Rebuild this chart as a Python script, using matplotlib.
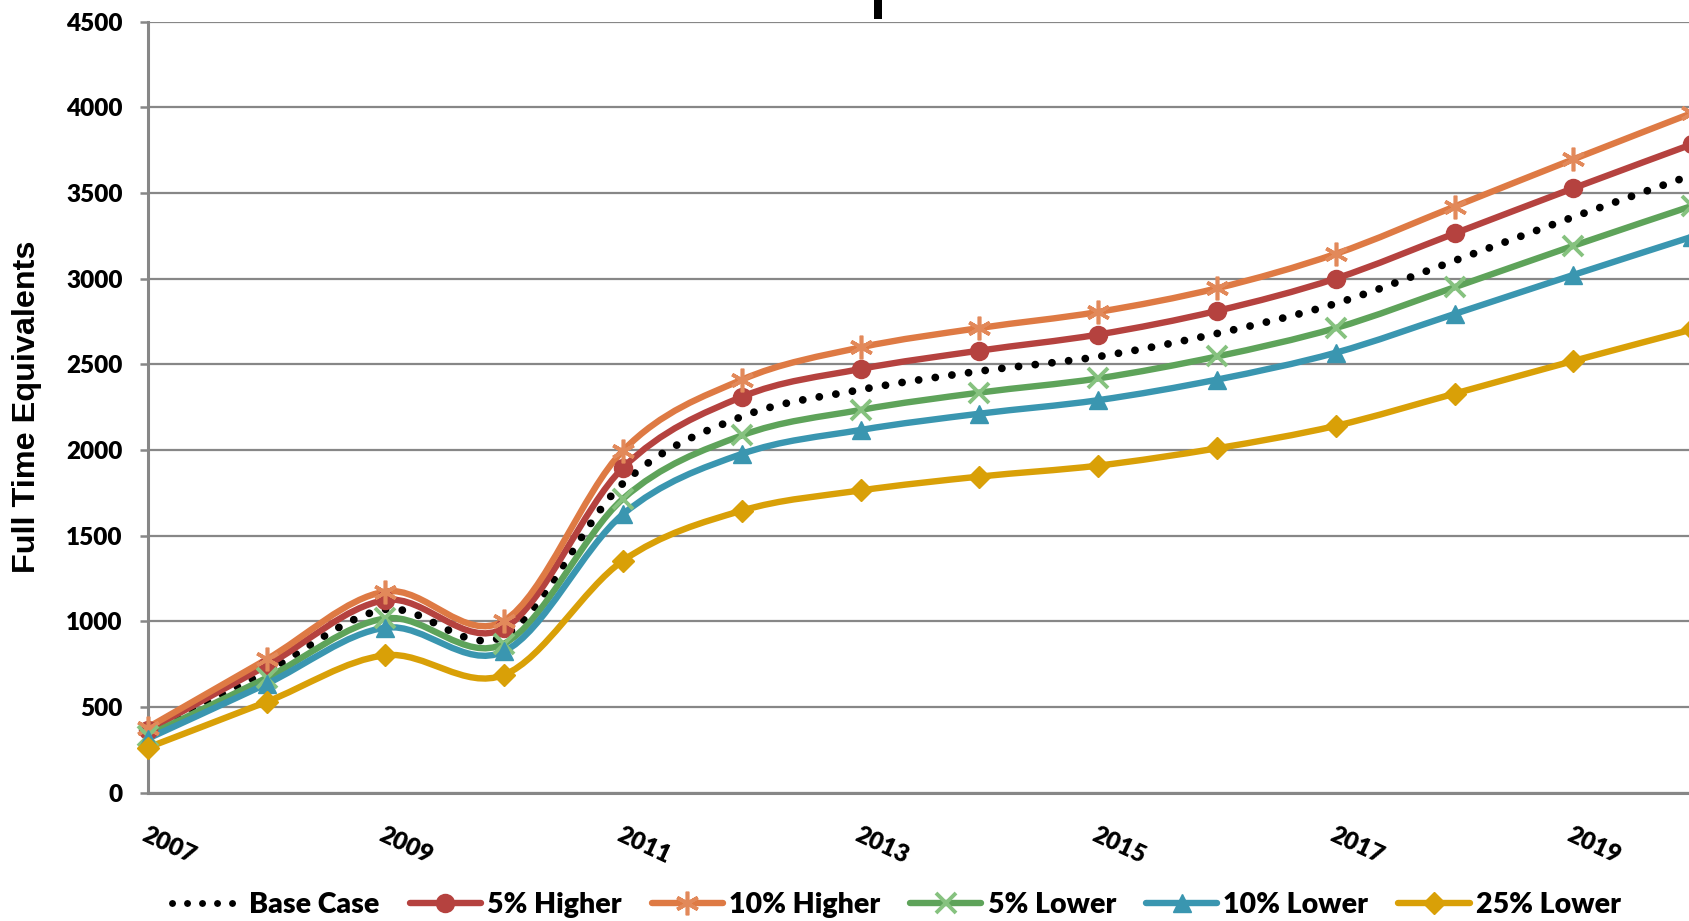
import numpy as np
import matplotlib
matplotlib.use("Agg")
import matplotlib.pyplot as plt
from matplotlib.path import Path
from matplotlib.patches import PathPatch, Rectangle
from matplotlib.lines import Line2D

# ---------------- data ----------------
years = [2007, 2008, 2009, 2010, 2011, 2012, 2013, 2014, 2015, 2016, 2017, 2018, 2019, 2020]
tick_years = [2007, 2009, 2011, 2013, 2015, 2017, 2019]
y_ticks = [0, 500, 1000, 1500, 2000, 2500, 3000, 3500, 4000, 4500]

base_case = [350, 706, 1070, 915, 1805, 2195, 2352, 2460, 2545, 2680, 2855, 3105, 3360, 3605]
higher_5 = [365, 741, 1124, 960, 1896, 2310, 2473, 2580, 2674, 2812, 3001, 3264, 3528, 3785]
higher_10 = [380, 778, 1174, 1004, 1996, 2410, 2599, 2712, 2806, 2944, 3145, 3421, 3697, 3967]
lower_5 = [333, 670, 1017, 870, 1715, 2085, 2234, 2335, 2418, 2546, 2712, 2950, 3192, 3425]
lower_10 = [315, 635, 963, 825, 1625, 1977, 2117, 2212, 2291, 2411, 2568, 2794, 3022, 3245]
lower_25 = [263, 530, 802, 688, 1354, 1646, 1764, 1845, 1909, 2010, 2141, 2329, 2520, 2704]

series_names = ["Base Case", "5% Higher", "10% Higher", "5% Lower", "10% Lower", "25% Lower"]

# ---------------- styles ----------------
W, H = 1690, 921
FONT = ["Lato", "DejaVu Sans"]
GRID = "#878787"

styles = {
    "Base Case": dict(color="black", marker=None),
    "5% Higher": dict(color="#B5423F", marker="o", ms=12.5, mfc="#B5423F", mec="#B5423F", mew=1.5),
    "10% Higher": dict(color="#DE7A44", marker=(6, 2, 0), ms=17, mfc="none", mec="#E2895A", mew=2.6),
    "5% Lower": dict(color="#5EA35A", marker="x", ms=14, mfc="none", mec="#86C27F", mew=2.8),
    "10% Lower": dict(color="#3A96B0", marker="^", ms=13.5, mfc="#3A96B0", mec="#3A96B0", mew=1.0),
    "25% Lower": dict(color="#D9A007", marker="D", ms=11.5, mfc="#D9A007", mec="#D9A007", mew=1.0),
}
values = {
    "Base Case": base_case,
    "5% Higher": higher_5,
    "10% Higher": higher_10,
    "5% Lower": lower_5,
    "10% Lower": lower_10,
    "25% Lower": lower_25,
}

LW = 4.6
DOT = (0, (0.01, 2.15))


def smooth_path(x, y):
    """Bezier path through the points (Excel-style smoothed line)."""
    x = [float(v) for v in x]
    y = [float(v) for v in y]
    n = len(x)
    verts = [(x[0], y[0])]
    codes = [Path.MOVETO]
    for i in range(n - 1):
        p0 = (x[i - 1], y[i - 1]) if i > 0 else (x[i], y[i])
        p3 = (x[i + 2], y[i + 2]) if i + 2 < n else (x[i + 1], y[i + 1])
        c1 = (x[i] + (x[i + 1] - p0[0]) / 6.0, y[i] + (y[i + 1] - p0[1]) / 6.0)
        c2 = (x[i + 1] - (p3[0] - x[i]) / 6.0, y[i + 1] - (p3[1] - y[i]) / 6.0)
        verts += [c1, c2, (x[i + 1], y[i + 1])]
        codes += [Path.CURVE4] * 3
    return Path(verts, codes)


fig = plt.figure(figsize=(W / 100, H / 100), dpi=100)
fig.patch.set_facecolor("white")

x0, y0 = 147.7, 792.7
px_per_year = 118.8
y_top = 21.7
ax = fig.add_axes([x0 / W, (H - y0) / H, 13 * px_per_year / W, (y0 - y_top) / H])
ax.set_xlim(2007, 2020)
ax.set_ylim(0, 4500)

# grid & spines
ax.set_yticks(y_ticks)
ax.yaxis.grid(True, color=GRID, linewidth=1.6)
ax.set_axisbelow(True)
for s in ["top", "right"]:
    ax.spines[s].set_visible(False)
for s in ["left", "bottom"]:
    ax.spines[s].set_color(GRID)
    ax.spines[s].set_linewidth(2.2)

ax.tick_params(axis="y", length=6, width=1.8, color=GRID, pad=12,
               labelsize=17.5, labelcolor="black")
for lab in ax.get_yticklabels():
    lab.set_fontfamily(FONT)
    lab.set_fontweight("heavy")

ax.set_xticks(tick_years)
ax.set_xticklabels([str(t) for t in tick_years], fontsize=17.5, fontweight="heavy",
                   family=FONT, rotation=-25, ha="left", va="top",
                   rotation_mode="anchor")
ax.tick_params(axis="x", length=0, pad=22)

# series
for name in series_names:
    st = styles[name]
    path = smooth_path(years, values[name])
    if name == "Base Case":
        patch = PathPatch(path, fill=False, edgecolor="black", lw=5.6,
                          linestyle=DOT, capstyle="round", joinstyle="round",
                          zorder=3, clip_on=False)
        ax.add_patch(patch)
    else:
        patch = PathPatch(path, fill=False, edgecolor=st["color"], lw=LW,
                          capstyle="round", joinstyle="round", zorder=3, clip_on=False)
        ax.add_patch(patch)
        ax.plot(years, values[name], linestyle="none", marker=st["marker"],
                ms=st["ms"], mfc=st["mfc"], mec=st["mec"], mew=st["mew"],
                zorder=4, clip_on=False)

# y label
fig.text(27 / W, 1 - 407 / H, "Full Time Equivalents", rotation=90,
         ha="center", va="center", fontsize=23.3, fontweight="bold",
         family=["Liberation Sans", "DejaVu Sans"])

# fragment of cut-off title at top
fig.patches.append(Rectangle((874.5 / W, 1 - 19 / H), 8 / W, 19 / H,
                             transform=fig.transFigure, facecolor="black",
                             edgecolor="none"))

# legend
handles = []
for name in series_names:
    st = styles[name]
    if name == "Base Case":
        h = Line2D([], [], color="black", lw=5.0, linestyle=DOT,
                   dash_capstyle="round")
    else:
        h = Line2D([], [], color=st["color"], lw=LW, solid_capstyle="round",
                   marker=st["marker"], ms=st["ms"], mfc=st["mfc"],
                   mec=st["mec"], mew=st["mew"])
    handles.append(h)

leg = fig.legend(handles, series_names, loc="center left",
                 bbox_to_anchor=(172 / W, 1 - 905 / H), ncol=6, frameon=False,
                 borderpad=0, borderaxespad=0, handlelength=2.5,
                 handletextpad=0.22, columnspacing=1.05,
                 prop={"family": FONT, "weight": "heavy", "size": 20.5})

fig.savefig("out.png", dpi=100, facecolor="white")
